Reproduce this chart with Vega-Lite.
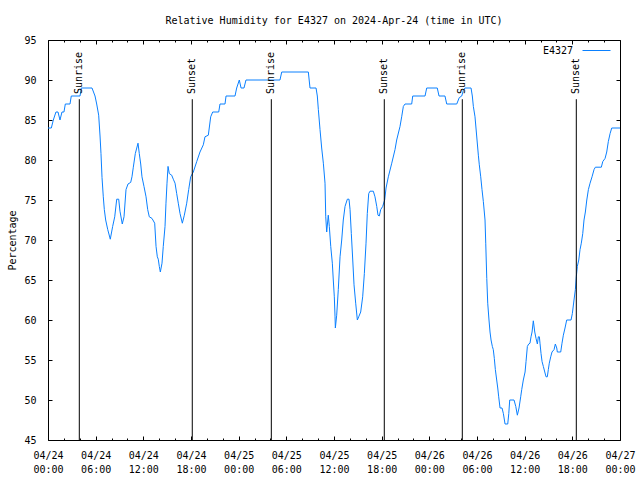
{
"$schema": "https://vega.github.io/schema/vega-lite/v6.json",
"width": 572, "height": 400,
"autosize": "none",
"padding": {"left": 48, "top": 40, "right": 20, "bottom": 40},
"background": "white",
"title": {"text": "Relative Humidity for E4327 on 2024-Apr-24 (time in UTC)", "font": "DejaVu Sans Mono", "fontSize": 10, "fontWeight": "normal", "color": "black", "anchor": "middle", "offset": 9},
"config": {
  "view": {"stroke": "black", "strokeWidth": 1},
  "axis": {"labelFont": "DejaVu Sans Mono", "labelFontSize": 10, "labelColor": "black", "tickColor": "black", "tickWidth": 1, "domain": false, "grid": false, "titleFont": "DejaVu Sans Mono", "titleFontSize": 10, "titleFontWeight": "normal", "titleColor": "black"},
  "legend": {"labelFont": "DejaVu Sans Mono", "labelFontSize": 10, "labelColor": "black"}
},
"datasets": {
"rh": [
{"hour":0,"rh":84},{"hour":0.42,"rh":84},{"hour":0.67,"rh":85},{"hour":1.0,"rh":86},{"hour":1.26,"rh":86},{"hour":1.51,"rh":85},{"hour":1.76,"rh":86},{"hour":2.01,"rh":86},{"hour":2.18,"rh":87},{"hour":2.77,"rh":87},{"hour":2.93,"rh":88},{"hour":4.03,"rh":88},{"hour":4.19,"rh":89},{"hour":5.54,"rh":89},{"hour":5.92,"rh":88},{"hour":6.13,"rh":87},{"hour":6.38,"rh":85.6},{"hour":6.55,"rh":83},{"hour":6.67,"rh":80.8},{"hour":6.8,"rh":77.8},{"hour":6.96,"rh":75.4},{"hour":7.09,"rh":73.8},{"hour":7.26,"rh":72.5},{"hour":7.52,"rh":71.3},{"hour":7.84,"rh":70.1},{"hour":8.14,"rh":71.7},{"hour":8.4,"rh":72.9},{"hour":8.65,"rh":75.1},{"hour":8.9,"rh":75.1},{"hour":9.06,"rh":73.6},{"hour":9.35,"rh":72},{"hour":9.57,"rh":72.9},{"hour":9.82,"rh":76.3},{"hour":10.07,"rh":77},{"hour":10.41,"rh":77.2},{"hour":10.57,"rh":77.9},{"hour":10.74,"rh":79.1},{"hour":10.99,"rh":80.8},{"hour":11.33,"rh":82.1},{"hour":11.49,"rh":80.8},{"hour":11.67,"rh":79.5},{"hour":11.83,"rh":77.9},{"hour":12.08,"rh":76.7},{"hour":12.34,"rh":75.4},{"hour":12.55,"rh":73.8},{"hour":12.75,"rh":72.9},{"hour":13.09,"rh":72.7},{"hour":13.43,"rh":72.1},{"hour":13.6,"rh":69.2},{"hour":13.76,"rh":67.9},{"hour":13.88,"rh":67.6},{"hour":14.01,"rh":66.7},{"hour":14.14,"rh":66},{"hour":14.35,"rh":67.1},{"hour":14.51,"rh":69.2},{"hour":14.73,"rh":71.7},{"hour":14.85,"rh":74.6},{"hour":14.98,"rh":77.1},{"hour":15.11,"rh":79.2},{"hour":15.27,"rh":78.3},{"hour":15.57,"rh":78.1},{"hour":15.77,"rh":77.6},{"hour":15.99,"rh":77.1},{"hour":16.2,"rh":75.8},{"hour":16.4,"rh":74.6},{"hour":16.62,"rh":73.3},{"hour":16.91,"rh":72.1},{"hour":17.16,"rh":73.1},{"hour":17.46,"rh":74.6},{"hour":17.71,"rh":76.3},{"hour":17.96,"rh":77.9},{"hour":18.29,"rh":78.5},{"hour":18.72,"rh":79.8},{"hour":19.13,"rh":81},{"hour":19.55,"rh":81.9},{"hour":19.76,"rh":82.9},{"hour":20.18,"rh":83.1},{"hour":20.48,"rh":85.4},{"hour":20.73,"rh":86},{"hour":21.49,"rh":86},{"hour":21.65,"rh":87},{"hour":22.28,"rh":87},{"hour":22.41,"rh":88},{"hour":23.54,"rh":88},{"hour":23.75,"rh":89},{"hour":24.08,"rh":90},{"hour":24.3,"rh":89},{"hour":24.67,"rh":89},{"hour":24.92,"rh":90},{"hour":29.2,"rh":90},{"hour":29.42,"rh":91},{"hour":32.77,"rh":91},{"hour":32.98,"rh":89},{"hour":33.74,"rh":89},{"hour":33.9,"rh":88},{"hour":34.03,"rh":86.3},{"hour":34.24,"rh":83.8},{"hour":34.45,"rh":81.5},{"hour":34.66,"rh":79.6},{"hour":34.87,"rh":77.1},{"hour":34.96,"rh":72.9},{"hour":35.08,"rh":71},{"hour":35.28,"rh":73.1},{"hour":35.41,"rh":71.7},{"hour":35.59,"rh":69.2},{"hour":35.79,"rh":67.1},{"hour":35.91,"rh":65},{"hour":36.04,"rh":62.9},{"hour":36.13,"rh":60.4},{"hour":36.17,"rh":59},{"hour":36.34,"rh":60.6},{"hour":36.54,"rh":63.8},{"hour":36.76,"rh":67.9},{"hour":36.97,"rh":70},{"hour":37.17,"rh":72.5},{"hour":37.39,"rh":74.2},{"hour":37.68,"rh":75.1},{"hour":37.89,"rh":75.1},{"hour":38.02,"rh":73.8},{"hour":38.18,"rh":70.8},{"hour":38.36,"rh":67.5},{"hour":38.52,"rh":64.4},{"hour":38.73,"rh":62.1},{"hour":38.94,"rh":60},{"hour":39.11,"rh":60.4},{"hour":39.36,"rh":61},{"hour":39.61,"rh":62.9},{"hour":39.82,"rh":65.8},{"hour":40.03,"rh":69.6},{"hour":40.19,"rh":73.3},{"hour":40.37,"rh":75.8},{"hour":40.53,"rh":76.1},{"hour":40.95,"rh":76.1},{"hour":41.16,"rh":75.4},{"hour":41.38,"rh":74.2},{"hour":41.54,"rh":73.1},{"hour":41.7,"rh":73},{"hour":41.88,"rh":73.8},{"hour":42.13,"rh":74.2},{"hour":42.38,"rh":75},{"hour":42.55,"rh":76.5},{"hour":42.84,"rh":77.9},{"hour":43.27,"rh":79.6},{"hour":43.68,"rh":81.3},{"hour":43.89,"rh":82.5},{"hour":44.31,"rh":84.2},{"hour":44.52,"rh":85.4},{"hour":44.73,"rh":86.7},{"hour":44.94,"rh":87},{"hour":45.78,"rh":87},{"hour":45.91,"rh":88},{"hour":47.46,"rh":88},{"hour":47.67,"rh":89},{"hour":49,"rh":89},{"hour":49.22,"rh":88},{"hour":49.97,"rh":88},{"hour":50.19,"rh":87},{"hour":51.45,"rh":87},{"hour":51.77,"rh":87.8},{"hour":52.08,"rh":88},{"hour":52.28,"rh":88.7},{"hour":52.49,"rh":89},{"hour":53.25,"rh":89},{"hour":53.41,"rh":88},{"hour":53.54,"rh":86.7},{"hour":53.75,"rh":85.4},{"hour":53.96,"rh":83},{"hour":54.17,"rh":80.6},{"hour":54.29,"rh":79.4},{"hour":54.47,"rh":77.9},{"hour":54.63,"rh":76.3},{"hour":54.8,"rh":74.8},{"hour":54.92,"rh":73.5},{"hour":55.01,"rh":72.5},{"hour":55.1,"rh":69.6},{"hour":55.23,"rh":65.2},{"hour":55.35,"rh":62.1},{"hour":55.51,"rh":60},{"hour":55.64,"rh":58.5},{"hour":55.77,"rh":57.5},{"hour":55.93,"rh":56.7},{"hour":56.05,"rh":56.3},{"hour":56.18,"rh":55.2},{"hour":56.31,"rh":53.8},{"hour":56.48,"rh":52.5},{"hour":56.61,"rh":51.5},{"hour":56.73,"rh":50.4},{"hour":56.9,"rh":49},{"hour":57.15,"rh":49},{"hour":57.32,"rh":48.3},{"hour":57.53,"rh":47},{"hour":57.87,"rh":47},{"hour":58,"rh":48.3},{"hour":58.12,"rh":50},{"hour":58.66,"rh":50},{"hour":58.88,"rh":49.2},{"hour":59.08,"rh":48.1},{"hour":59.29,"rh":49},{"hour":59.5,"rh":50.4},{"hour":59.63,"rh":51.3},{"hour":59.83,"rh":52.5},{"hour":60.05,"rh":53.5},{"hour":60.17,"rh":54.8},{"hour":60.34,"rh":56.7},{"hour":60.51,"rh":57},{"hour":60.67,"rh":57.1},{"hour":60.8,"rh":57.9},{"hour":60.93,"rh":58.5},{"hour":61.09,"rh":59.9},{"hour":61.27,"rh":58.5},{"hour":61.43,"rh":57.7},{"hour":61.6,"rh":57},{"hour":61.72,"rh":57.9},{"hour":61.85,"rh":57.9},{"hour":61.93,"rh":57.1},{"hour":62.06,"rh":55.8},{"hour":62.19,"rh":54.8},{"hour":62.35,"rh":54.2},{"hour":62.53,"rh":53.5},{"hour":62.69,"rh":52.9},{"hour":62.85,"rh":52.9},{"hour":62.98,"rh":53.8},{"hour":63.1,"rh":54.6},{"hour":63.28,"rh":55.4},{"hour":63.44,"rh":56},{"hour":63.7,"rh":56.3},{"hour":63.86,"rh":57},{"hour":64.04,"rh":56.5},{"hour":64.11,"rh":56},{"hour":64.54,"rh":56},{"hour":64.7,"rh":57.1},{"hour":64.87,"rh":58.1},{"hour":65.08,"rh":59},{"hour":65.29,"rh":60},{"hour":65.84,"rh":60},{"hour":66,"rh":60.8},{"hour":66.21,"rh":62.5},{"hour":66.38,"rh":63.8},{"hour":66.5,"rh":65.4},{"hour":66.63,"rh":66.7},{"hour":66.81,"rh":67.5},{"hour":66.97,"rh":68.8},{"hour":67.13,"rh":69.6},{"hour":67.31,"rh":70.8},{"hour":67.47,"rh":72.5},{"hour":67.64,"rh":73.5},{"hour":67.82,"rh":75},{"hour":68.02,"rh":76.3},{"hour":68.23,"rh":77.1},{"hour":68.48,"rh":77.9},{"hour":68.73,"rh":78.8},{"hour":68.9,"rh":79.1},{"hour":69.65,"rh":79.1},{"hour":69.83,"rh":79.8},{"hour":70.12,"rh":80.2},{"hour":70.33,"rh":81},{"hour":70.53,"rh":82.3},{"hour":70.75,"rh":83.3},{"hour":70.96,"rh":84},{"hour":72,"rh":84}
],
"sun": [
{"hour":3.94,"event":"Sunrise"},{"hour":18.16,"event":"Sunset"},{"hour":28.11,"event":"Sunrise"},{"hour":42.33,"event":"Sunset"},{"hour":52.15,"event":"Sunrise"},{"hour":66.5,"event":"Sunset"}
]
},
"layer": [
{
  "data": {"name": "rh"},
  "mark": {"type": "line", "strokeWidth": 1, "clip": true},
  "encoding": {
    "x": {"field": "hour", "type": "quantitative", "scale": {"domain": [0, 72], "nice": false, "zero": false},
      "axis": {"orient": "bottom", "values": [0,6,12,18,24,30,36,42,48,54,60,66,72], "ticks": false, "labelPadding": 10, "labelLineHeight": 14, "labelFlush": false, "labelOverlap": false, "labelBound": false, "title": null,
        "labelExpr": "['04/' + (24 + floor(datum.value / 24)), (datum.value % 24 < 10 ? '0' : '') + (datum.value % 24) + ':00']"}},
    "y": {"field": "rh", "type": "quantitative", "scale": {"domain": [45, 95], "nice": false, "zero": false},
      "axis": {"orient": "left", "values": [45,50,55,60,65,70,75,80,85,90,95], "ticks": false, "labelPadding": 12, "labelOverlap": false, "labelFlush": false, "title": "Percentage", "titlePadding": 6}},
    "color": {"datum": "E4327", "type": "nominal", "scale": {"range": ["#0a80ff"]},
      "legend": {"orient": "none", "legendX": 534, "legendY": -4, "title": null, "symbolType": "stroke", "symbolSize": 784, "symbolStrokeWidth": 1, "labelAlign": "right", "labelOffset": -38, "padding": 0}}
  }
},
{
  "data": {"name": "sun"},
  "mark": {"type": "rule", "color": "black", "strokeWidth": 1},
  "encoding": {
    "x": {"field": "hour", "type": "quantitative",
      "axis": {"orient": "bottom", "values": [0,2,4,6,8,10,12,14,16,18,20,22,24,26,28,30,32,34,36,38,40,42,44,46,48,50,52,54,56,58,60,62,64,66,68,70,72], "labels": false, "title": null,
        "tickSize": {"condition": {"test": "datum.value % 6 === 0", "value": -4}, "value": -2}}},
    "y": {"datum": 45, "type": "quantitative", "axis": {"orient": "left", "values": [45,50,55,60,65,70,75,80,85,90,95], "labels": false, "tickSize": -4, "title": null}},
    "y2": {"datum": 87.6}
  }
},
{
  "data": {"name": "sun"},
  "mark": {"type": "text", "angle": 270, "align": "left", "baseline": "middle", "font": "DejaVu Sans Mono", "fontSize": 10, "color": "black"},
  "encoding": {
    "x": {"field": "hour", "type": "quantitative",
      "axis": {"orient": "top", "values": [0,2,4,6,8,10,12,14,16,18,20,22,24,26,28,30,32,34,36,38,40,42,44,46,48,50,52,54,56,58,60,62,64,66,68,70,72], "labels": false, "title": null,
        "tickSize": {"condition": {"test": "datum.value % 6 === 0", "value": -4}, "value": -2}}},
    "y": {"datum": 88.25, "type": "quantitative", "axis": {"orient": "right", "values": [45,50,55,60,65,70,75,80,85,90,95], "labels": false, "tickSize": -4, "title": null}},
    "text": {"field": "event"}
  }
}
],
"resolve": {"axis": {"x": "independent", "y": "independent"}}
}
